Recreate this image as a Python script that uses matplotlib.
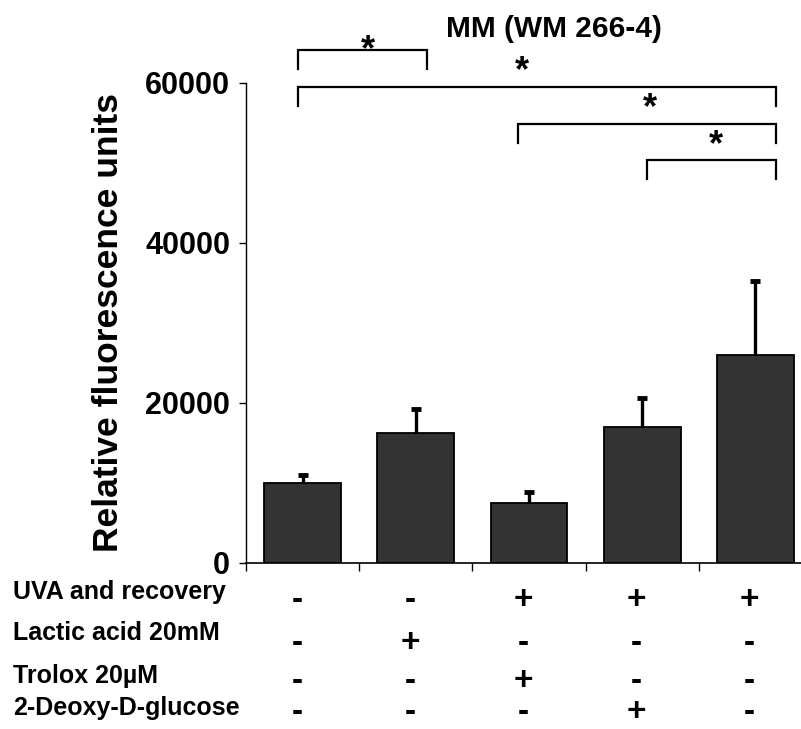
import matplotlib
matplotlib.use("Agg")
import matplotlib.pyplot as plt
import matplotlib.transforms as mtransforms
import numpy as np

plt.rcParams['font.family'] = ['Liberation Sans', 'DejaVu Sans']

# Mean relative fluorescence and upper error (SD) for each condition
means = [10000, 16300, 7500, 17000, 26000]
errors = [1000, 2900, 1400, 3600, 9200]

title = "MM (WM 266-4)"
ylabel = "Relative fluorescence units"
yticks = [0, 20000, 40000, 60000]

# Treatment matrix shown below the bars
row_labels = ["UVA and recovery", "Lactic acid 20mM", "Trolox 20\u00b5M", "2-Deoxy-D-glucose"]
treatments = [
    ["-", "-", "+", "+", "+"],
    ["-", "+", "-", "-", "-"],
    ["-", "-", "+", "-", "-"],
    ["-", "-", "-", "+", "-"],
]

# Significance brackets: (left x, right x, bar height, leg bottom)
brackets = [
    (-0.04, 1.10, 64100, 61750),
    (-0.04, 4.18, 59500, 57100),
    (1.90, 4.18, 54900, 52500),
    (3.04, 4.18, 50350, 47950),
]
# Star (x, baseline) for each bracket
stars = [(0.575, 62900), (1.94, 60200), (3.07, 55560), (3.65, 51000)]

W, H = 801, 729
fig = plt.figure(figsize=(W / 100, H / 100), dpi=100)
ax = fig.add_axes([246 / W, 166 / H, 566 / W, 480 / H])

x = list(range(len(means)))
ax.bar(x, means, width=0.68, color="#333333", edgecolor="black", linewidth=1.3, zorder=2)
_, caps, _ = ax.errorbar(x, means, yerr=[[0] * len(errors), errors], fmt="none",
                         ecolor="black", elinewidth=2.4, capsize=3.5, capthick=3.5,
                         zorder=3)
# only the upper cap is shown
for cap in caps:
    if np.allclose(cap.get_ydata(), means):
        cap.set_visible(False)

ax.set_xlim(-0.5, 4.5)
ax.set_ylim(0, 60000)
ax.set_yticks(yticks)
ax.set_yticklabels([str(t) for t in yticks], fontsize=22, fontweight="bold")
ax.tick_params(axis="y", direction="out", length=5, width=1, pad=6.5)
ax.set_xticks([i - 0.5 for i in range(6)])
ax.set_xticklabels([])
ax.tick_params(axis="x", direction="out", length=6, width=1)
for s in ["top", "right"]:
    ax.spines[s].set_visible(False)
ax.spines["left"].set_linewidth(1)
ax.spines["bottom"].set_linewidth(1.2)

ax.set_ylabel(ylabel, fontsize=25.5, fontweight="bold")
ax.yaxis.set_label_coords(-0.2138, 0.5)

for (x0, x1, top, bot) in brackets:
    ax.plot([x0, x0, x1, x1], [bot, top, top, bot], color="black", lw=1.6,
            clip_on=False, solid_joinstyle="miter")
for (sx, sy) in stars:
    ax.text(sx, sy, "*", fontsize=26, fontweight="bold", ha="center", va="baseline",
            clip_on=False)

fig.text(553.5 / W, 1 - 37 / H, title, fontsize=21.5, fontweight="bold",
         ha="center", va="baseline")

# Treatment table
trans = mtransforms.blended_transform_factory(ax.transData, fig.transFigure)
label_baselines = [599, 640, 683, 715]
sign_baselines = [608.7, 651.7, 689.7, 721]
for r, lab in enumerate(row_labels):
    fig.text(13 / W, 1 - label_baselines[r] / H, lab, fontsize=18,
             fontweight="bold", ha="left", va="baseline")
    for c, sgn in enumerate(treatments[r]):
        ax.text(c - 0.05, 1 - sign_baselines[r] / H, sgn, transform=trans,
                fontsize=24, fontweight="bold", ha="center", va="baseline",
                clip_on=False)

fig.savefig("out.png", dpi=100)
